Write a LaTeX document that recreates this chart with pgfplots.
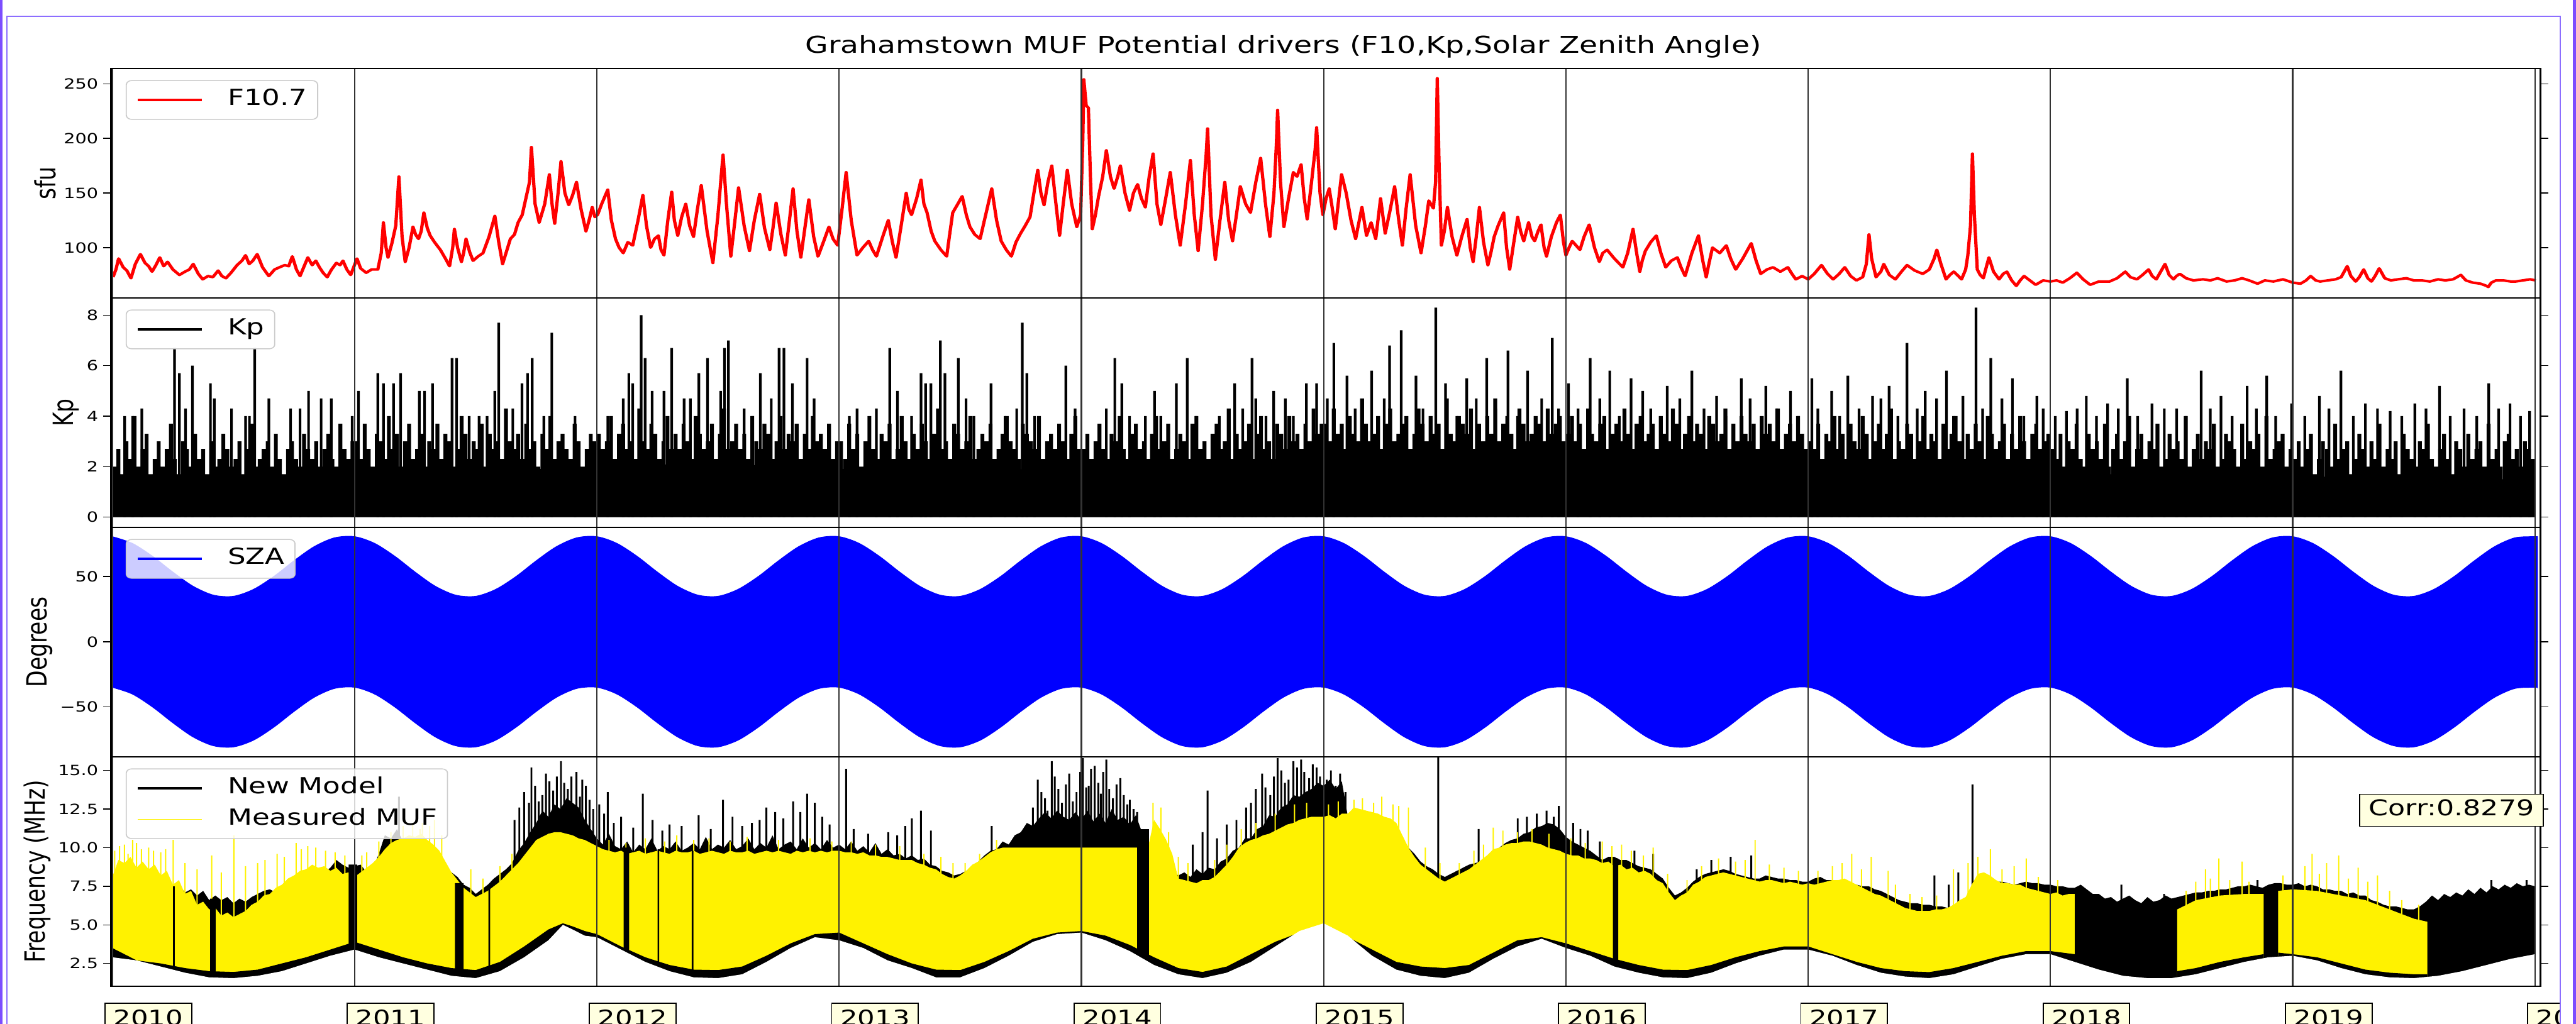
\documentclass[border=0pt]{standalone}
\usepackage{fontspec}
\setmainfont{DejaVu Sans}
\usepackage{graphicx}
\usepackage{pgfplots}
\pgfplotsset{compat=1.18}
\usepackage{pgfplotstable}
\definecolor{lyel}{RGB}{255,255,224}
\definecolor{frm}{RGB}{124,77,255}
\definecolor{frmthin}{RGB}{140,110,255}
\newsavebox{\figbox}

% ---------------- F10.7 (sfu) ----------------
\pgfplotstableread[row sep=\\]{t v\\
2010.003 73\\ 2010.015 80\\ 2010.026 90\\ 2010.045 82\\ 2010.060 79\\ 2010.077 72\\ 2010.095 85\\ 2010.116 94\\ 2010.135 86\\ 2010.150 83\\
2010.164 78\\ 2010.180 84\\ 2010.196 91\\ 2010.212 83\\ 2010.228 87\\ 2010.250 80\\ 2010.277 75\\ 2010.300 78\\ 2010.318 80\\ 2010.334 85\\
2010.355 76\\ 2010.373 71\\ 2010.395 74\\ 2010.415 73\\ 2010.437 79\\ 2010.452 74\\ 2010.469 72\\ 2010.490 77\\ 2010.515 84\\ 2010.535 88\\
2010.550 93\\ 2010.565 85\\ 2010.580 88\\ 2010.598 94\\ 2010.620 82\\ 2010.646 74\\ 2010.670 80\\ 2010.690 82\\ 2010.712 84\\ 2010.728 83\\
2010.743 92\\ 2010.760 80\\ 2010.775 74\\ 2010.790 82\\ 2010.807 91\\ 2010.825 84\\ 2010.840 88\\ 2010.855 82\\ 2010.870 77\\ 2010.887 73\\
2010.905 80\\ 2010.925 86\\ 2010.940 84\\ 2010.952 88\\ 2010.968 80\\ 2010.984 75\\ 2011.010 90\\
2011.025 81\\ 2011.048 77\\ 2011.070 80\\ 2011.096 80\\ 2011.110 95\\ 2011.119 123\\ 2011.130 100\\ 2011.138 91\\ 2011.154 104\\ 2011.170 120\\
2011.183 165\\ 2011.196 110\\ 2011.209 87\\ 2011.225 100\\ 2011.241 119\\ 2011.252 112\\ 2011.264 108\\ 2011.275 115\\ 2011.286 132\\ 2011.300 118\\
2011.312 111\\ 2011.330 105\\ 2011.354 98\\ 2011.375 90\\ 2011.392 83\\ 2011.405 100\\ 2011.412 117\\ 2011.425 100\\ 2011.441 87\\ 2011.450 95\\
2011.460 108\\ 2011.475 96\\ 2011.489 88\\ 2011.510 92\\ 2011.530 95\\ 2011.555 110\\ 2011.579 129\\ 2011.595 105\\ 2011.611 85\\ 2011.625 95\\
2011.643 108\\ 2011.660 112\\ 2011.675 123\\ 2011.692 130\\ 2011.707 145\\ 2011.722 160\\ 2011.730 192\\ 2011.745 140\\ 2011.762 123\\ 2011.785 140\\
2011.804 167\\ 2011.815 140\\ 2011.826 122\\ 2011.840 150\\ 2011.852 179\\ 2011.868 150\\ 2011.884 139\\ 2011.900 148\\ 2011.916 160\\ 2011.935 135\\
2011.955 115\\ 2011.968 125\\ 2011.981 137\\ 2011.992 128\\ 2012.003 130\\
2012.020 140\\ 2012.045 153\\ 2012.060 125\\ 2012.077 108\\ 2012.092 100\\ 2012.109 95\\ 2012.128 105\\ 2012.148 102\\ 2012.170 125\\ 2012.190 148\\
2012.205 120\\ 2012.222 100\\ 2012.238 108\\ 2012.254 111\\ 2012.265 98\\ 2012.277 93\\ 2012.293 125\\ 2012.309 151\\ 2012.320 125\\ 2012.334 111\\
2012.350 128\\ 2012.367 140\\ 2012.383 120\\ 2012.399 110\\ 2012.415 135\\ 2012.431 157\\ 2012.455 115\\ 2012.479 86\\ 2012.500 130\\ 2012.515 170\\
2012.521 185\\ 2012.535 140\\ 2012.553 92\\ 2012.570 125\\ 2012.585 155\\ 2012.608 120\\ 2012.630 97\\ 2012.650 125\\ 2012.672 149\\ 2012.692 118\\
2012.714 98\\ 2012.727 118\\ 2012.740 141\\ 2012.760 112\\ 2012.778 93\\ 2012.795 125\\ 2012.810 154\\ 2012.826 115\\ 2012.842 91\\ 2012.860 120\\
2012.875 144\\ 2012.895 110\\ 2012.913 92\\ 2012.935 105\\ 2012.958 119\\ 2012.975 108\\ 2012.994 102\\
2013.012 135\\ 2013.029 169\\ 2013.050 125\\ 2013.074 93\\ 2013.098 100\\ 2013.122 106\\ 2013.138 98\\ 2013.154 92\\ 2013.180 110\\ 2013.203 125\\
2013.220 105\\ 2013.235 91\\ 2013.256 120\\ 2013.277 150\\ 2013.288 135\\ 2013.299 130\\ 2013.320 145\\ 2013.338 162\\ 2013.350 140\\ 2013.363 132\\
2013.380 115\\ 2013.395 106\\ 2013.420 98\\ 2013.444 92\\ 2013.455 110\\ 2013.469 132\\ 2013.490 140\\ 2013.508 147\\ 2013.525 130\\ 2013.540 119\\
2013.560 112\\ 2013.582 108\\ 2013.605 130\\ 2013.630 154\\ 2013.650 125\\ 2013.669 106\\ 2013.690 98\\ 2013.711 92\\ 2013.730 105\\ 2013.749 113\\
2013.768 120\\ 2013.788 128\\ 2013.804 150\\ 2013.820 171\\ 2013.833 150\\ 2013.846 139\\ 2013.862 160\\ 2013.878 175\\ 2013.895 140\\ 2013.910 111\\
2013.925 140\\ 2013.942 171\\ 2013.960 140\\ 2013.981 119\\ 2013.997 130\\ 2014.006 200\\ 2014.010 254\\ 2014.020 230\\ 2014.029 228\\ 2014.038 160\\
2014.045 117\\ 2014.058 130\\ 2014.071 147\\ 2014.088 165\\ 2014.103 189\\ 2014.120 165\\ 2014.135 154\\ 2014.150 165\\ 2014.161 175\\ 2014.180 150\\
2014.199 134\\ 2014.215 150\\ 2014.232 158\\ 2014.248 145\\ 2014.264 137\\ 2014.280 165\\ 2014.296 186\\ 2014.312 140\\ 2014.328 121\\ 2014.348 145\\
2014.367 169\\ 2014.388 130\\ 2014.408 102\\ 2014.430 140\\ 2014.450 180\\ 2014.466 130\\ 2014.482 97\\ 2014.500 140\\ 2014.515 185\\ 2014.521 209\\
2014.535 130\\ 2014.553 89\\ 2014.572 125\\ 2014.592 160\\ 2014.608 125\\ 2014.624 106\\ 2014.640 130\\ 2014.656 156\\ 2014.678 140\\ 2014.698 132\\
2014.720 160\\ 2014.740 182\\ 2014.760 140\\ 2014.778 110\\ 2014.795 150\\ 2014.805 195\\ 2014.810 226\\ 2014.822 160\\ 2014.836 119\\ 2014.855 145\\
2014.875 169\\ 2014.890 165\\ 2014.907 176\\ 2014.920 145\\ 2014.932 126\\ 2014.950 160\\ 2014.965 190\\ 2014.971 210\\ 2014.985 150\\ 2014.997 130\\
2015.010 145\\ 2015.023 154\\ 2015.035 137\\ 2015.048 117\\ 2015.060 140\\ 2015.074 167\\ 2015.093 150\\ 2015.113 125\\ 2015.132 108\\ 2015.158 137\\
2015.177 111\\ 2015.196 123\\ 2015.215 108\\ 2015.235 145\\ 2015.254 113\\ 2015.275 135\\ 2015.293 156\\ 2015.310 125\\ 2015.325 102\\ 2015.340 135\\
2015.357 167\\ 2015.380 120\\ 2015.402 95\\ 2015.420 120\\ 2015.434 143\\ 2015.453 136\\ 2015.462 160\\ 2015.469 255\\ 2015.476 180\\ 2015.486 102\\
2015.498 115\\ 2015.511 137\\ 2015.530 110\\ 2015.550 93\\ 2015.570 110\\ 2015.592 126\\ 2015.605 100\\ 2015.617 87\\ 2015.630 110\\ 2015.643 137\\
2015.660 105\\ 2015.678 84\\ 2015.690 95\\ 2015.704 110\\ 2015.720 120\\ 2015.743 132\\ 2015.755 100\\ 2015.768 80\\ 2015.785 105\\ 2015.801 128\\
2015.813 115\\ 2015.826 106\\ 2015.846 123\\ 2015.860 110\\ 2015.871 106\\ 2015.885 115\\ 2015.897 121\\ 2015.910 100\\ 2015.920 92\\ 2015.940 110\\
2015.961 123\\ 2015.977 130\\ 2015.990 105\\
2016.000 93\\ 2016.013 100\\ 2016.026 106\\ 2016.042 102\\ 2016.058 98\\ 2016.075 110\\ 2016.096 121\\ 2016.118 100\\ 2016.138 87\\ 2016.152 95\\
2016.170 98\\ 2016.200 90\\ 2016.235 82\\ 2016.255 95\\ 2016.277 117\\ 2016.292 95\\ 2016.305 78\\ 2016.315 88\\ 2016.328 97\\ 2016.350 105\\
2016.373 111\\ 2016.392 95\\ 2016.412 82\\ 2016.435 88\\ 2016.460 91\\ 2016.475 82\\ 2016.492 74\\ 2016.520 95\\ 2016.547 111\\ 2016.565 88\\
2016.579 73\\ 2016.590 85\\ 2016.605 100\\ 2016.635 95\\ 2016.662 102\\ 2016.680 90\\ 2016.701 80\\ 2016.730 90\\ 2016.765 104\\ 2016.785 88\\
2016.804 76\\ 2016.830 80\\ 2016.855 82\\ 2016.885 78\\ 2016.916 82\\ 2016.933 76\\ 2016.949 71\\ 2016.975 74\\ 2017.000 71\\
2017.025 76\\ 2017.055 84\\ 2017.080 76\\ 2017.103 71\\ 2017.128 76\\ 2017.151 82\\ 2017.175 74\\ 2017.199 70\\ 2017.225 73\\ 2017.240 85\\
2017.251 112\\ 2017.262 90\\ 2017.280 73\\ 2017.300 78\\ 2017.312 85\\ 2017.335 75\\ 2017.360 71\\ 2017.385 78\\ 2017.408 84\\ 2017.440 79\\
2017.473 76\\ 2017.500 80\\ 2017.520 90\\ 2017.531 98\\ 2017.548 85\\ 2017.569 71\\ 2017.585 75\\ 2017.601 78\\ 2017.620 74\\ 2017.633 71\\
2017.650 80\\ 2017.659 93\\ 2017.670 120\\ 2017.678 186\\ 2017.686 130\\ 2017.698 80\\ 2017.710 75\\ 2017.723 72\\ 2017.735 82\\ 2017.746 91\\
2017.765 78\\ 2017.788 71\\ 2017.805 76\\ 2017.820 78\\ 2017.840 70\\ 2017.859 65\\ 2017.875 70\\ 2017.891 74\\ 2017.915 70\\ 2017.939 66\\
2017.970 70\\ 2018.000 69\\
2018.025 70\\ 2018.051 68\\ 2018.080 72\\ 2018.109 77\\ 2018.135 71\\ 2018.164 66\\ 2018.200 69\\ 2018.244 69\\ 2018.275 72\\ 2018.309 78\\
2018.330 73\\ 2018.357 71\\ 2018.380 75\\ 2018.405 80\\ 2018.420 74\\ 2018.437 71\\ 2018.455 78\\ 2018.473 85\\ 2018.490 75\\ 2018.508 71\\
2018.520 74\\ 2018.534 76\\ 2018.560 72\\ 2018.590 70\\ 2018.630 71\\ 2018.660 70\\ 2018.690 72\\ 2018.727 69\\ 2018.760 70\\ 2018.791 72\\
2018.820 70\\ 2018.855 67\\ 2018.885 70\\ 2018.920 69\\ 2018.960 71\\ 2019.000 68\\
2019.032 67\\ 2019.055 70\\ 2019.074 74\\ 2019.095 70\\ 2019.113 69\\ 2019.145 70\\ 2019.177 71\\ 2019.200 73\\ 2019.225 83\\ 2019.240 74\\
2019.260 69\\ 2019.275 73\\ 2019.293 80\\ 2019.310 72\\ 2019.325 69\\ 2019.340 74\\ 2019.357 81\\ 2019.380 72\\ 2019.405 70\\ 2019.435 71\\
2019.469 72\\ 2019.500 70\\ 2019.533 70\\ 2019.566 69\\ 2019.600 71\\ 2019.630 70\\ 2019.662 71\\ 2019.694 75\\ 2019.715 70\\ 2019.743 68\\
2019.775 67\\ 2019.800 65\\ 2019.807 64\\ 2019.820 68\\ 2019.839 70\\ 2019.870 70\\ 2019.900 69\\ 2019.920 69\\ 2019.950 70\\ 2019.980 71\\
2020.003 70\\
}\ftab

% ---------------- Kp ----------------
\pgfplotstableread[row sep=\\]{t b\\
2010.00 1.5\\ 2010.25 1.6\\ 2010.50 1.5\\ 2010.75 1.6\\ 2011.00 1.7\\ 2011.25 1.9\\ 2011.50 1.8\\ 2011.75 1.9\\ 2012.00 2.0\\ 2012.25 2.1\\
2012.50 2.0\\ 2012.75 2.1\\ 2013.00 1.9\\ 2013.25 2.0\\ 2013.50 2.0\\ 2013.75 1.9\\ 2014.00 1.8\\ 2014.25 1.9\\ 2014.50 1.9\\ 2014.75 2.0\\
2015.00 2.3\\ 2015.25 2.4\\ 2015.50 2.3\\ 2015.75 2.3\\ 2016.00 2.2\\ 2016.25 2.2\\ 2016.50 2.1\\ 2016.75 2.1\\ 2017.00 2.0\\ 2017.25 2.0\\
2017.50 1.9\\ 2017.75 2.0\\ 2018.00 1.8\\ 2018.25 1.7\\ 2018.50 1.7\\ 2018.75 1.7\\ 2019.00 1.6\\ 2019.25 1.6\\ 2019.50 1.5\\ 2019.75 1.5\\
2020.00 1.5\\
}\kpbase

\pgfplotstableread[row sep=\\, header=false]{%
2.0\\2.7\\1.7\\3.0\\2.3\\4.0\\2.0\\2.7\\3.3\\1.7\\2.3\\3.0\\2.0\\2.7\\3.7\\2.3\\1.7\\3.0\\2.7\\2.0\\3.3\\2.3\\2.7\\1.7\\3.0\\2.0\\2.3\\3.3\\2.7\\2.0\\
2.3\\3.0\\1.7\\2.7\\3.7\\2.0\\2.3\\2.7\\3.0\\2.0\\3.3\\2.3\\1.7\\2.7\\3.0\\2.3\\2.0\\3.3\\2.7\\2.3\\3.0\\2.0\\2.7\\3.3\\2.3\\2.0\\3.7\\2.7\\2.3\\3.0\\
3.0\\2.3\\3.7\\2.7\\2.0\\3.3\\3.0\\2.3\\4.0\\2.7\\3.3\\2.0\\3.0\\3.7\\2.3\\2.7\\3.3\\2.0\\3.0\\2.7\\3.7\\2.3\\3.3\\3.0\\2.0\\2.7\\4.0\\3.3\\2.3\\3.0\\
2.7\\3.7\\2.0\\3.3\\2.7\\3.0\\2.3\\4.3\\3.0\\2.7\\3.3\\2.3\\3.7\\2.7\\3.0\\2.0\\3.3\\2.7\\4.0\\2.3\\3.0\\3.3\\2.7\\2.3\\3.7\\3.0\\2.0\\2.7\\3.3\\3.0\\
3.3\\2.7\\3.0\\4.0\\2.3\\3.3\\3.7\\2.7\\3.0\\2.3\\4.3\\3.0\\2.7\\3.7\\3.3\\2.3\\3.0\\4.0\\2.7\\3.3\\2.7\\3.7\\3.0\\2.3\\4.0\\3.3\\2.7\\3.0\\3.7\\2.3\\
3.3\\4.3\\2.7\\3.0\\3.7\\2.7\\3.3\\2.3\\4.0\\3.0\\2.7\\3.7\\3.3\\2.3\\3.0\\4.0\\2.7\\3.3\\3.0\\3.7\\2.3\\3.3\\2.7\\4.0\\3.0\\3.3\\2.7\\3.7\\2.3\\3.0\\
3.0\\2.3\\3.7\\2.7\\3.3\\2.0\\3.0\\4.0\\2.7\\2.3\\3.3\\3.0\\3.7\\2.3\\2.7\\4.0\\3.0\\2.3\\3.3\\2.7\\3.7\\3.0\\2.3\\3.3\\4.3\\2.7\\3.0\\2.3\\3.7\\3.3\\
2.7\\3.0\\4.0\\2.3\\2.7\\3.3\\3.0\\3.7\\2.3\\2.7\\3.3\\4.0\\3.0\\2.7\\2.3\\3.7\\3.3\\3.0\\2.7\\4.0\\2.3\\3.0\\3.3\\2.7\\3.7\\3.0\\2.3\\3.3\\4.0\\2.7\\
2.7\\3.3\\2.3\\3.0\\3.7\\2.7\\2.3\\3.3\\3.0\\4.0\\2.7\\2.3\\3.3\\3.7\\2.7\\3.0\\2.3\\3.3\\4.0\\2.7\\3.0\\3.7\\2.3\\2.7\\3.3\\3.0\\2.3\\3.7\\4.0\\2.7\\
3.0\\2.3\\3.3\\3.7\\2.7\\3.0\\4.3\\2.3\\3.3\\2.7\\3.0\\3.7\\2.3\\3.3\\4.0\\2.7\\3.0\\2.3\\3.7\\3.3\\2.7\\4.0\\3.0\\3.3\\2.7\\3.7\\3.0\\4.3\\3.3\\3.7\\
3.7\\3.0\\4.3\\3.3\\3.7\\2.7\\4.0\\3.3\\3.0\\4.7\\3.7\\3.0\\3.3\\4.0\\2.7\\3.7\\4.3\\3.0\\3.3\\3.7\\4.0\\2.7\\3.3\\4.3\\3.7\\3.0\\4.0\\3.3\\3.7\\2.7\\
4.7\\3.3\\3.0\\4.0\\3.7\\3.3\\4.3\\2.7\\3.7\\3.0\\4.0\\3.3\\4.7\\3.0\\3.7\\4.0\\3.3\\2.7\\4.3\\3.7\\3.0\\3.3\\4.0\\3.7\\3.0\\4.3\\3.3\\3.7\\4.0\\3.0\\
3.3\\4.0\\3.0\\3.7\\2.7\\4.3\\3.3\\3.0\\3.7\\4.0\\2.7\\3.3\\3.7\\3.0\\4.3\\3.3\\2.7\\3.7\\4.0\\3.0\\3.3\\3.7\\2.7\\4.0\\3.3\\3.0\\4.3\\3.7\\2.7\\3.3\\
4.0\\3.0\\3.7\\3.3\\2.7\\4.0\\3.7\\3.0\\3.3\\4.3\\2.7\\3.7\\3.0\\4.0\\3.3\\3.0\\3.7\\2.7\\4.0\\3.3\\3.7\\3.0\\4.3\\2.7\\3.3\\3.7\\3.0\\4.0\\3.3\\2.7\\
3.0\\2.7\\3.7\\2.3\\3.3\\3.0\\4.0\\2.7\\3.3\\2.3\\3.7\\3.0\\2.7\\4.0\\3.3\\2.3\\3.0\\3.7\\2.7\\3.3\\4.3\\2.3\\3.0\\2.7\\3.7\\3.3\\2.3\\3.0\\4.0\\2.7\\
3.3\\3.0\\2.3\\3.7\\2.7\\3.3\\4.0\\3.0\\2.3\\3.3\\2.7\\3.7\\3.0\\2.3\\4.0\\3.3\\2.7\\3.0\\3.7\\2.3\\3.3\\2.7\\4.0\\3.0\\2.3\\3.3\\3.7\\2.7\\3.0\\3.3\\
2.7\\2.3\\3.3\\2.0\\3.0\\2.7\\3.7\\2.3\\2.0\\3.3\\2.7\\3.0\\2.3\\3.7\\2.0\\2.7\\3.3\\2.3\\3.0\\4.0\\2.0\\2.7\\3.3\\2.3\\3.0\\2.7\\3.7\\2.0\\2.3\\3.3\\
2.7\\3.0\\2.3\\4.0\\2.0\\2.7\\3.3\\2.3\\3.0\\2.7\\3.7\\2.0\\2.3\\3.3\\3.0\\2.7\\2.0\\3.7\\2.3\\3.0\\2.7\\3.3\\2.0\\4.0\\2.3\\2.7\\3.0\\3.3\\2.0\\2.7\\
2.3\\3.0\\2.0\\2.7\\3.3\\1.7\\2.3\\3.0\\2.7\\2.0\\3.7\\2.3\\2.7\\3.0\\1.7\\2.3\\3.3\\2.7\\2.0\\3.0\\2.3\\3.7\\2.0\\2.7\\2.3\\3.0\\1.7\\3.3\\2.7\\2.3\\
2.0\\3.0\\2.7\\3.7\\2.3\\2.0\\2.7\\3.3\\2.3\\1.7\\3.0\\2.7\\2.0\\3.3\\2.3\\2.7\\3.0\\2.0\\3.7\\2.3\\2.7\\2.0\\3.0\\3.3\\2.3\\2.7\\2.0\\3.0\\2.7\\2.3\\
}\kpgrass

\pgfplotstableread[row sep=\\]{t v\\
2010.051 4.0\\ 2010.084 4.0\\ 2010.122 4.3\\ 2010.257 6.7\\ 2010.277 5.7\\ 2010.302 4.3\\ 2010.331 6.0\\ 2010.405 5.3\\ 2010.421 4.7\\ 2010.492 4.3\\
2010.550 4.0\\ 2010.566 4.0\\ 2010.588 6.7\\ 2010.646 4.7\\ 2010.736 4.3\\ 2010.775 4.3\\ 2010.810 5.0\\ 2010.862 4.7\\ 2010.904 4.7\\ 2010.990 4.0\\
2011.016 5.0\\ 2011.096 5.7\\ 2011.119 5.3\\ 2011.161 5.3\\ 2011.190 5.7\\ 2011.267 5.0\\ 2011.289 5.0\\ 2011.322 5.3\\ 2011.402 6.3\\ 2011.421 6.3\\
2011.473 4.0\\ 2011.514 4.0\\ 2011.547 4.0\\ 2011.579 5.0\\ 2011.595 7.7\\ 2011.653 4.3\\ 2011.691 5.3\\ 2011.714 5.7\\ 2011.733 6.3\\ 2011.781 4.0\\
2011.814 7.3\\ 2011.910 4.0\\
2012.045 4.0\\ 2012.109 4.7\\ 2012.132 5.7\\ 2012.148 5.3\\ 2012.183 8.0\\ 2012.199 6.3\\ 2012.228 5.0\\ 2012.277 5.0\\ 2012.309 6.7\\ 2012.360 4.7\\
2012.386 4.7\\ 2012.421 5.7\\ 2012.457 6.3\\ 2012.511 5.0\\ 2012.527 6.7\\ 2012.543 7.0\\ 2012.608 4.3\\ 2012.643 4.0\\ 2012.675 5.7\\ 2012.720 4.7\\
2012.752 6.7\\ 2012.772 6.7\\ 2012.807 5.3\\ 2012.868 6.3\\ 2012.897 4.7\\
2013.042 4.0\\ 2013.074 4.3\\ 2013.154 4.3\\ 2013.209 6.7\\ 2013.241 5.0\\ 2013.299 4.0\\ 2013.338 5.7\\ 2013.357 5.3\\ 2013.379 5.3\\ 2013.418 7.0\\
2013.437 5.7\\ 2013.492 6.3\\ 2013.524 4.7\\ 2013.556 4.0\\ 2013.627 5.3\\ 2013.685 4.0\\ 2013.733 4.3\\ 2013.756 7.7\\ 2013.775 5.7\\ 2013.807 4.0\\
2013.936 6.0\\ 2013.974 4.3\\
2014.103 4.3\\ 2014.138 6.3\\ 2014.167 5.3\\ 2014.199 4.0\\ 2014.264 4.0\\ 2014.302 5.0\\ 2014.328 4.0\\ 2014.392 5.3\\ 2014.437 6.3\\ 2014.473 4.0\\
2014.569 4.0\\ 2014.633 5.3\\ 2014.666 4.3\\ 2014.704 6.3\\ 2014.720 4.7\\ 2014.762 4.0\\ 2014.794 5.0\\ 2014.842 4.7\\ 2014.875 4.0\\ 2014.929 5.3\\
2014.971 5.3\\
2015.015 4.7\\ 2015.042 6.9\\ 2015.096 5.6\\ 2015.130 4.3\\ 2015.198 5.8\\ 2015.250 4.7\\ 2015.272 6.8\\ 2015.320 7.4\\ 2015.381 5.6\\ 2015.410 4.3\\
2015.463 8.3\\ 2015.503 5.3\\ 2015.550 4.0\\ 2015.591 5.5\\ 2015.630 4.7\\ 2015.673 6.3\\ 2015.710 4.3\\ 2015.761 6.6\\ 2015.800 4.0\\ 2015.842 5.8\\
2015.900 4.7\\ 2015.944 7.1\\ 2015.970 4.3\\
2016.011 5.3\\ 2016.050 4.3\\ 2016.100 6.3\\ 2016.140 4.7\\ 2016.181 5.8\\ 2016.220 4.0\\ 2016.269 5.5\\ 2016.317 5.0\\ 2016.350 4.3\\ 2016.418 5.2\\
2016.470 4.7\\ 2016.520 5.8\\ 2016.570 4.3\\ 2016.622 4.8\\ 2016.660 4.0\\ 2016.724 5.5\\ 2016.760 4.7\\ 2016.825 5.2\\ 2016.870 4.3\\ 2016.927 5.0\\
2016.960 4.0\\
2017.015 5.5\\ 2017.040 4.3\\ 2017.097 5.0\\ 2017.130 4.0\\ 2017.164 5.6\\ 2017.210 4.3\\ 2017.266 4.8\\ 2017.300 4.7\\ 2017.334 5.2\\ 2017.370 4.0\\
2017.408 6.9\\ 2017.450 4.3\\ 2017.483 5.0\\ 2017.530 4.7\\ 2017.571 5.8\\ 2017.600 4.0\\ 2017.639 4.8\\ 2017.693 8.3\\ 2017.720 4.3\\ 2017.754 6.3\\
2017.800 4.7\\ 2017.843 5.5\\ 2017.890 4.0\\ 2017.944 4.8\\ 2017.970 4.3\\
2018.020 4.0\\ 2018.066 4.2\\ 2018.110 4.3\\ 2018.148 4.8\\ 2018.190 4.0\\ 2018.236 4.5\\ 2018.280 4.3\\ 2018.317 5.5\\ 2018.360 4.0\\ 2018.419 4.5\\
2018.470 4.3\\ 2018.521 4.3\\ 2018.560 4.0\\ 2018.622 5.8\\ 2018.660 4.3\\ 2018.704 4.8\\ 2018.750 4.0\\ 2018.812 5.2\\ 2018.850 4.3\\ 2018.893 5.6\\
2018.930 4.0\\ 2018.995 4.5\\
2019.050 4.0\\ 2019.110 4.8\\ 2019.150 4.3\\ 2019.199 5.8\\ 2019.250 4.0\\ 2019.300 4.5\\ 2019.350 4.3\\ 2019.402 4.2\\ 2019.450 4.0\\ 2019.504 4.5\\
2019.550 4.3\\ 2019.606 5.2\\ 2019.650 4.0\\ 2019.707 4.3\\ 2019.760 4.0\\ 2019.809 5.3\\ 2019.850 4.3\\ 2019.897 4.5\\ 2019.940 4.0\\ 2019.978 4.2\\
}\kpspk

% ---------------- SZA envelope ----------------
\pgfplotstableread[row sep=\\]{t u l\\
2010.000 80.6 -34.9\\ 2010.083 75.4 -40.1\\ 2010.167 65.4 -50.1\\ 2010.250 53.4 -62.1\\ 2010.333 42.6 -72.9\\ 2010.417 35.8 -79.7\\ 2010.500 34.9 -80.6\\ 2010.583 40.2 -75.4\\ 2010.667 50.1 -65.4\\ 2010.750 62.1 -53.4\\ 2010.833 72.9 -42.6\\ 2010.917 79.7 -35.8\\
2011.000 80.6 -34.9\\ 2011.083 75.4 -40.1\\ 2011.167 65.4 -50.1\\ 2011.250 53.4 -62.1\\ 2011.333 42.6 -72.9\\ 2011.417 35.8 -79.7\\ 2011.500 34.9 -80.6\\ 2011.583 40.2 -75.4\\ 2011.667 50.1 -65.4\\ 2011.750 62.1 -53.4\\ 2011.833 72.9 -42.6\\ 2011.917 79.7 -35.8\\
2012.000 80.6 -34.9\\ 2012.083 75.4 -40.1\\ 2012.167 65.4 -50.1\\ 2012.250 53.4 -62.1\\ 2012.333 42.6 -72.9\\ 2012.417 35.8 -79.7\\ 2012.500 34.9 -80.6\\ 2012.583 40.2 -75.4\\ 2012.667 50.1 -65.4\\ 2012.750 62.1 -53.4\\ 2012.833 72.9 -42.6\\ 2012.917 79.7 -35.8\\
2013.000 80.6 -34.9\\ 2013.083 75.4 -40.1\\ 2013.167 65.4 -50.1\\ 2013.250 53.4 -62.1\\ 2013.333 42.6 -72.9\\ 2013.417 35.8 -79.7\\ 2013.500 34.9 -80.6\\ 2013.583 40.2 -75.4\\ 2013.667 50.1 -65.4\\ 2013.750 62.1 -53.4\\ 2013.833 72.9 -42.6\\ 2013.917 79.7 -35.8\\
2014.000 80.6 -34.9\\ 2014.083 75.4 -40.1\\ 2014.167 65.4 -50.1\\ 2014.250 53.4 -62.1\\ 2014.333 42.6 -72.9\\ 2014.417 35.8 -79.7\\ 2014.500 34.9 -80.6\\ 2014.583 40.2 -75.4\\ 2014.667 50.1 -65.4\\ 2014.750 62.1 -53.4\\ 2014.833 72.9 -42.6\\ 2014.917 79.7 -35.8\\
2015.000 80.6 -34.9\\ 2015.083 75.4 -40.1\\ 2015.167 65.4 -50.1\\ 2015.250 53.4 -62.1\\ 2015.333 42.6 -72.9\\ 2015.417 35.8 -79.7\\ 2015.500 34.9 -80.6\\ 2015.583 40.2 -75.4\\ 2015.667 50.1 -65.4\\ 2015.750 62.1 -53.4\\ 2015.833 72.9 -42.6\\ 2015.917 79.7 -35.8\\
2016.000 80.6 -34.9\\ 2016.083 75.4 -40.1\\ 2016.167 65.4 -50.1\\ 2016.250 53.4 -62.1\\ 2016.333 42.6 -72.9\\ 2016.417 35.8 -79.7\\ 2016.500 34.9 -80.6\\ 2016.583 40.2 -75.4\\ 2016.667 50.1 -65.4\\ 2016.750 62.1 -53.4\\ 2016.833 72.9 -42.6\\ 2016.917 79.7 -35.8\\
2017.000 80.6 -34.9\\ 2017.083 75.4 -40.1\\ 2017.167 65.4 -50.1\\ 2017.250 53.4 -62.1\\ 2017.333 42.6 -72.9\\ 2017.417 35.8 -79.7\\ 2017.500 34.9 -80.6\\ 2017.583 40.2 -75.4\\ 2017.667 50.1 -65.4\\ 2017.750 62.1 -53.4\\ 2017.833 72.9 -42.6\\ 2017.917 79.7 -35.8\\
2018.000 80.6 -34.9\\ 2018.083 75.4 -40.1\\ 2018.167 65.4 -50.1\\ 2018.250 53.4 -62.1\\ 2018.333 42.6 -72.9\\ 2018.417 35.8 -79.7\\ 2018.500 34.9 -80.6\\ 2018.583 40.2 -75.4\\ 2018.667 50.1 -65.4\\ 2018.750 62.1 -53.4\\ 2018.833 72.9 -42.6\\ 2018.917 79.7 -35.8\\
2019.000 80.6 -34.9\\ 2019.083 75.4 -40.1\\ 2019.167 65.4 -50.1\\ 2019.250 53.4 -62.1\\ 2019.333 42.6 -72.9\\ 2019.417 35.8 -79.7\\ 2019.500 34.9 -80.6\\ 2019.583 40.2 -75.4\\ 2019.667 50.1 -65.4\\ 2019.750 62.1 -53.4\\ 2019.833 72.9 -42.6\\ 2019.917 79.7 -35.8\\
2020.000 80.6 -34.9\\ 2020.010 80.6 -34.9\\
}\szatab

% ---------------- MUF envelopes ----------------
\pgfplotstableread[row sep=\\, header=false]{%
7.6\\8.8\\8.3\\8.7\\8.0\\8.4\\7.9\\8.5\\7.6\\7.9\\7.4\\7.6\\7.1\\7.3\\6.9\\7.2\\6.6\\6.9\\6.6\\6.8\\6.4\\6.7\\6.5\\6.8\\7.0\\7.2\\7.3\\7.1\\7.5\\7.7\\7.9\\8.2\\8.2\\8.6\\8.5\\8.4\\8.7\\9.2\\8.9\\8.7\\
8.8\\8.9\\8.4\\8.6\\9.6\\10.8\\10.6\\11.2\\10.4\\10.5\\10.0\\9.9\\9.7\\9.4\\9.0\\8.8\\8.4\\8.1\\7.6\\7.4\\7.0\\7.3\\7.6\\8.0\\8.3\\8.6\\9.0\\9.8\\10.3\\11.0\\11.6\\12.4\\12.0\\12.8\\12.5\\13.2\\12.9\\12.6\\11.8\\11.2\\
10.6\\10.2\\10.9\\10.1\\9.9\\10.4\\9.7\\10.2\\9.9\\10.6\\9.8\\10.1\\9.9\\10.4\\9.8\\10.0\\10.3\\9.9\\10.7\\9.9\\10.2\\10.0\\10.5\\9.9\\10.1\\10.6\\9.9\\10.3\\10.0\\10.8\\9.9\\10.2\\10.4\\9.9\\10.6\\10.0\\10.3\\9.9\\10.5\\10.0\\
10.2\\9.9\\10.4\\9.8\\10.1\\9.7\\10.3\\9.6\\9.9\\9.5\\9.6\\9.3\\9.5\\9.2\\9.3\\8.9\\8.8\\8.5\\8.4\\8.2\\8.3\\8.5\\8.7\\9.1\\9.5\\9.8\\9.9\\10.4\\10.2\\10.8\\11.0\\11.6\\11.4\\11.9\\12.3\\11.9\\12.4\\12.0\\11.8\\12.3\\
11.8\\12.4\\11.7\\12.2\\11.6\\12.5\\11.8\\12.0\\11.5\\12.1\\11.0\\10.4\\9.6\\9.2\\8.8\\8.5\\8.2\\8.4\\8.1\\8.6\\8.3\\8.7\\8.6\\9.1\\9.3\\9.8\\10.0\\10.6\\10.6\\11.2\\11.4\\12.1\\12.0\\12.6\\12.8\\13.4\\13.3\\13.6\\13.8\\14.2\\
14.0\\14.4\\13.8\\14.3\\12.0\\11.6\\11.3\\11.9\\11.6\\11.2\\11.8\\11.5\\11.2\\10.6\\10.0\\9.6\\9.1\\8.8\\8.6\\8.3\\8.1\\8.3\\8.5\\8.7\\8.9\\9.0\\9.1\\9.4\\9.6\\10.0\\10.3\\10.5\\10.6\\10.9\\11.0\\11.3\\11.4\\11.6\\11.5\\11.2\\
10.7\\10.4\\10.2\\10.0\\9.8\\9.5\\9.2\\9.4\\9.4\\9.2\\9.2\\9.0\\8.8\\8.7\\8.6\\8.3\\8.0\\7.4\\6.9\\7.1\\7.4\\7.8\\8.1\\8.3\\8.4\\8.5\\8.6\\8.5\\8.3\\8.2\\8.1\\8.0\\8.0\\8.2\\8.1\\8.0\\8.0\\7.9\\7.9\\7.8\\
7.8\\8.0\\8.1\\7.9\\7.9\\7.8\\7.8\\7.7\\7.6\\7.5\\7.5\\7.3\\7.2\\7.0\\6.8\\6.6\\6.5\\6.4\\6.4\\6.3\\6.3\\6.2\\6.2\\6.1\\6.1\\6.3\\6.4\\7.2\\7.8\\7.9\\7.9\\7.8\\7.8\\7.7\\7.6\\7.7\\7.8\\7.7\\7.7\\7.6\\
7.6\\7.5\\7.5\\7.4\\7.4\\7.6\\7.3\\7.0\\7.0\\6.7\\6.8\\6.5\\6.7\\6.9\\6.6\\6.4\\6.8\\6.5\\6.6\\6.9\\6.7\\6.8\\6.9\\7.0\\7.1\\7.1\\7.2\\7.2\\7.3\\7.3\\7.4\\7.5\\7.5\\7.6\\7.5\\7.4\\7.6\\7.7\\7.7\\7.6\\
7.6\\7.7\\7.5\\7.6\\7.5\\7.3\\7.3\\7.2\\7.2\\7.0\\7.1\\6.9\\6.9\\6.6\\6.5\\6.3\\6.2\\6.2\\6.1\\6.0\\6.0\\6.2\\6.5\\6.9\\6.6\\7.0\\6.8\\7.1\\6.9\\7.3\\7.0\\7.4\\7.1\\7.5\\7.3\\7.6\\7.4\\7.7\\7.5\\7.6\\
7.5\\
}\ubtab

\pgfplotstableread[row sep=\\, header=false]{%
8.1\\9.2\\9.0\\9.4\\8.7\\9.1\\8.6\\8.9\\8.2\\8.5\\7.6\\7.9\\7.0\\7.2\\6.3\\6.5\\6.0\\6.1\\5.6\\5.8\\5.5\\5.7\\5.9\\6.3\\6.5\\6.9\\7.0\\7.4\\7.6\\8.0\\8.2\\8.5\\8.6\\8.9\\8.7\\8.8\\8.5\\8.7\\8.3\\8.4\\
8.1\\8.4\\8.7\\9.0\\9.4\\9.9\\10.3\\10.5\\10.6\\10.8\\10.7\\10.9\\10.5\\10.2\\9.8\\9.1\\8.4\\7.9\\7.4\\7.1\\6.8\\7.0\\7.2\\7.5\\7.8\\8.2\\8.6\\9.0\\9.5\\10.0\\10.5\\10.7\\10.9\\11.0\\11.0\\10.9\\10.8\\10.6\\10.5\\10.3\\
10.1\\9.9\\9.8\\9.7\\9.8\\9.6\\9.7\\9.8\\9.6\\9.7\\9.8\\9.7\\9.6\\9.8\\9.7\\9.7\\9.8\\9.6\\9.7\\9.8\\9.7\\9.6\\9.8\\9.7\\9.7\\9.8\\9.6\\9.7\\9.8\\9.7\\9.8\\9.7\\9.6\\9.8\\9.7\\9.8\\9.7\\9.8\\9.7\\9.8\\
9.8\\9.7\\9.7\\9.6\\9.7\\9.5\\9.5\\9.4\\9.4\\9.3\\9.2\\9.2\\9.2\\9.0\\8.9\\8.7\\8.6\\8.3\\8.1\\8.0\\8.2\\8.5\\8.9\\9.1\\9.4\\9.7\\9.9\\10.0\\10.0\\10.0\\10.0\\10.0\\10.0\\10.0\\10.0\\10.0\\10.0\\10.0\\10.0\\10.0\\
10.0\\10.0\\10.0\\10.0\\10.0\\10.0\\10.0\\10.0\\10.0\\10.0\\10.0\\10.0\\11.8\\11.2\\10.5\\9.6\\8.0\\7.9\\7.8\\7.7\\7.9\\7.9\\8.1\\8.5\\8.9\\9.4\\10.0\\10.3\\10.5\\10.6\\10.8\\10.9\\11.1\\11.3\\11.5\\11.6\\11.8\\11.9\\12.0\\12.0\\
12.0\\12.1\\11.9\\12.2\\12.2\\12.6\\12.5\\12.4\\12.3\\12.2\\12.0\\11.9\\11.6\\10.8\\10.0\\9.4\\8.9\\8.6\\8.3\\8.0\\7.8\\8.0\\8.2\\8.4\\8.6\\8.9\\9.2\\9.5\\9.9\\10.0\\10.2\\10.3\\10.3\\10.4\\10.4\\10.3\\10.2\\10.0\\9.9\\9.8\\
9.6\\9.5\\9.5\\9.3\\9.3\\9.2\\9.0\\9.1\\8.8\\8.9\\8.6\\8.7\\8.4\\8.5\\8.3\\7.9\\7.7\\7.1\\6.6\\6.9\\7.1\\7.6\\7.8\\8.1\\8.2\\8.3\\8.4\\8.3\\8.2\\8.1\\8.0\\7.9\\7.8\\7.9\\7.9\\7.8\\7.7\\7.8\\7.7\\7.6\\
7.7\\7.6\\7.7\\7.8\\7.9\\7.9\\8.0\\7.8\\7.6\\7.4\\7.2\\7.0\\6.9\\6.7\\6.5\\6.3\\6.1\\6.0\\5.9\\5.9\\5.9\\6.0\\6.0\\6.1\\6.3\\6.6\\6.8\\7.6\\8.3\\8.4\\8.2\\7.9\\7.7\\7.7\\7.6\\7.6\\7.4\\7.3\\7.2\\7.1\\
7.0\\7.1\\6.9\\7.0\\7.0\\
}\uyatab

\pgfplotstableread[row sep=\\]{t v\\
2010.00 2.9\\ 2010.10 2.7\\ 2010.20 2.3\\ 2010.30 1.9\\ 2010.40 1.6\\ 2010.50 1.55\\ 2010.60 1.7\\ 2010.70 2.0\\ 2010.80 2.5\\ 2010.90 3.0\\
2011.00 3.4\\ 2011.10 2.9\\ 2011.20 2.5\\ 2011.30 2.1\\ 2011.40 1.7\\ 2011.50 1.55\\ 2011.60 2.0\\ 2011.70 2.9\\ 2011.80 4.0\\ 2011.86 5.0\\
2011.90 4.7\\ 2011.95 4.3\\ 2012.00 4.2\\ 2012.10 3.4\\ 2012.20 2.6\\ 2012.30 2.0\\ 2012.40 1.6\\ 2012.50 1.55\\ 2012.60 1.8\\ 2012.70 2.6\\
2012.80 3.5\\ 2012.90 4.2\\ 2013.00 4.0\\ 2013.10 3.5\\ 2013.20 2.7\\ 2013.30 2.2\\ 2013.40 1.6\\ 2013.50 1.6\\ 2013.60 2.2\\ 2013.70 3.0\\
2013.80 3.9\\ 2013.90 4.4\\ 2014.00 4.5\\ 2014.10 4.0\\ 2014.20 3.3\\ 2014.30 2.4\\ 2014.40 1.8\\ 2014.50 1.55\\ 2014.60 1.9\\ 2014.70 2.6\\
2014.80 3.6\\ 2014.90 4.6\\ 2015.00 5.1\\ 2015.10 4.3\\ 2015.20 3.0\\ 2015.30 2.1\\ 2015.40 1.7\\ 2015.50 1.55\\ 2015.60 1.9\\ 2015.70 2.8\\
2015.80 3.6\\ 2015.90 4.1\\ 2016.00 3.5\\ 2016.10 3.0\\ 2016.20 2.3\\ 2016.30 1.9\\ 2016.40 1.6\\ 2016.50 1.55\\ 2016.60 1.9\\ 2016.70 2.5\\
2016.80 3.0\\ 2016.90 3.4\\ 2017.00 3.4\\ 2017.10 3.0\\ 2017.20 2.4\\ 2017.30 1.9\\ 2017.40 1.65\\ 2017.50 1.55\\ 2017.60 1.8\\ 2017.70 2.3\\
2017.80 2.8\\ 2017.90 3.1\\ 2018.00 3.1\\ 2018.10 2.6\\ 2018.20 2.1\\ 2018.30 1.7\\ 2018.40 1.55\\ 2018.50 1.55\\ 2018.60 1.8\\ 2018.70 2.2\\
2018.80 2.6\\ 2018.90 2.9\\ 2019.00 3.0\\ 2019.10 2.7\\ 2019.20 2.2\\ 2019.30 1.8\\ 2019.40 1.6\\ 2019.50 1.55\\ 2019.60 1.7\\ 2019.70 2.0\\
2019.80 2.4\\ 2019.90 2.8\\ 2020.00 3.1\\ 2020.03 3.1\\
}\lbtab

\pgfplotstableread[row sep=\\]{t v\\
2010.00 3.5\\ 2010.10 2.7\\ 2010.20 2.5\\ 2010.30 2.2\\ 2010.40 2.0\\ 2010.50 1.95\\ 2010.60 2.1\\ 2010.70 2.5\\ 2010.80 2.9\\ 2010.90 3.4\\
2011.00 3.9\\ 2011.10 3.4\\ 2011.20 2.9\\ 2011.30 2.5\\ 2011.40 2.2\\ 2011.50 2.07\\ 2011.60 2.6\\ 2011.70 3.6\\ 2011.80 4.7\\ 2011.86 5.1\\
2011.90 4.9\\ 2011.95 4.6\\ 2012.00 4.4\\ 2012.10 3.6\\ 2012.20 2.9\\ 2012.30 2.4\\ 2012.40 2.1\\ 2012.50 2.07\\ 2012.60 2.3\\ 2012.70 3.0\\
2012.80 3.8\\ 2012.90 4.4\\ 2013.00 4.5\\ 2013.10 3.8\\ 2013.20 3.1\\ 2013.30 2.5\\ 2013.40 2.1\\ 2013.50 2.07\\ 2013.60 2.6\\ 2013.70 3.3\\
2013.80 4.1\\ 2013.90 4.5\\ 2014.00 4.6\\ 2014.10 4.3\\ 2014.20 3.7\\ 2014.30 2.9\\ 2014.40 2.2\\ 2014.50 1.95\\ 2014.60 2.3\\ 2014.70 3.1\\
2014.80 3.9\\ 2014.90 4.5\\ 2015.00 4.7\\ 2015.10 4.2\\ 2015.20 3.4\\ 2015.30 2.6\\ 2015.40 2.3\\ 2015.50 2.2\\ 2015.60 2.4\\ 2015.70 3.2\\
2015.80 4.0\\ 2015.90 4.2\\ 2016.00 3.8\\ 2016.10 3.3\\ 2016.20 2.8\\ 2016.30 2.4\\ 2016.40 2.1\\ 2016.50 2.07\\ 2016.60 2.4\\ 2016.70 2.9\\
2016.80 3.3\\ 2016.90 3.6\\ 2017.00 3.6\\ 2017.10 3.1\\ 2017.20 2.6\\ 2017.30 2.2\\ 2017.40 2.0\\ 2017.50 1.94\\ 2017.60 2.2\\ 2017.70 2.6\\
2017.80 3.0\\ 2017.90 3.3\\ 2018.00 3.3\\ 2018.10 3.1\\
}\lyatab

\pgfplotstableread[row sep=\\]{t u l\\
2018.523 6.0 2.0\\ 2018.60 6.6 2.2\\ 2018.70 6.9 2.6\\ 2018.80 7.0 2.9\\ 2018.88 7.0 3.1\\
}\ybtab

\pgfplotstableread[row sep=\\]{t u l\\
2018.94 7.2 3.2\\ 2019.00 7.3 3.1\\ 2019.10 7.2 2.9\\ 2019.20 6.9 2.5\\ 2019.30 6.6 2.1\\ 2019.40 6.0 1.9\\ 2019.50 5.4 1.8\\ 2019.556 5.2 1.8\\
}\yctab

% spikes of the model above its envelope
\pgfplotstableread[row sep=\\]{t top\\
2011.183 13.3\\ 2011.660 11.8\\ 2011.680 12.6\\ 2011.700 13.6\\ 2011.720 12.9\\ 2011.730 15.2\\ 2011.745 14.0\\ 2011.760 13.0\\ 2011.775 13.4\\ 2011.790 14.8\\
2011.804 14.3\\ 2011.820 13.7\\ 2011.835 14.6\\ 2011.852 15.6\\ 2011.865 14.2\\ 2011.880 13.8\\ 2011.895 14.6\\ 2011.916 14.9\\ 2011.930 13.3\\ 2011.940 14.4\\
2011.955 14.0\\ 2011.970 13.1\\ 2011.985 12.5\\ 2012.010 12.8\\ 2012.030 12.2\\ 2012.045 13.6\\ 2012.070 11.6\\ 2012.100 12.0\\ 2012.150 11.3\\ 2012.190 13.5\\
2012.230 11.8\\ 2012.270 11.1\\ 2012.300 11.5\\ 2012.350 11.4\\ 2012.420 12.1\\ 2012.470 11.2\\ 2012.521 13.1\\ 2012.560 12.0\\ 2012.600 11.4\\ 2012.640 11.6\\
2012.672 11.8\\ 2012.700 12.6\\ 2012.736 12.3\\ 2012.770 11.9\\ 2012.810 13.0\\ 2012.840 12.3\\ 2012.868 13.5\\ 2012.900 12.9\\ 2012.930 12.0\\ 2012.961 11.5\\
2013.029 15.1\\ 2013.060 11.2\\ 2013.120 10.9\\ 2013.203 11.0\\ 2013.240 10.8\\ 2013.273 11.4\\ 2013.300 11.9\\ 2013.338 12.4\\ 2013.379 11.1\\ 2013.630 11.4\\
2013.800 12.6\\ 2013.820 14.4\\ 2013.835 13.6\\ 2013.850 13.2\\ 2013.860 12.4\\ 2013.878 15.6\\ 2013.890 14.6\\ 2013.905 13.8\\ 2013.920 12.9\\ 2013.936 14.1\\
2013.950 14.8\\ 2013.965 13.0\\ 2013.980 13.6\\ 2013.995 14.9\\ 2014.006 15.8\\ 2014.020 13.9\\ 2014.030 14.0\\ 2014.040 15.1\\ 2014.055 15.3\\ 2014.070 14.2\\
2014.080 13.5\\ 2014.090 14.9\\ 2014.103 15.7\\ 2014.115 13.8\\ 2014.130 13.2\\ 2014.145 14.1\\ 2014.161 14.5\\ 2014.175 13.4\\ 2014.190 12.8\\ 2014.200 13.1\\
2014.215 12.5\\ 2014.230 12.3\\ 2014.460 10.2\\ 2014.500 11.0\\ 2014.521 13.7\\ 2014.560 10.6\\ 2014.600 11.5\\ 2014.640 11.8\\ 2014.680 12.6\\ 2014.700 12.9\\
2014.720 13.8\\ 2014.746 14.8\\ 2014.760 13.9\\ 2014.780 13.4\\ 2014.795 14.6\\ 2014.810 15.8\\ 2014.825 15.0\\ 2014.840 14.2\\ 2014.855 14.4\\ 2014.875 15.6\\
2014.890 15.2\\ 2014.907 15.7\\ 2014.920 14.9\\ 2014.940 14.5\\ 2014.955 15.4\\ 2014.971 15.2\\ 2014.985 14.6\\ 2015.013 14.4\\ 2015.030 15.0\\ 2015.050 14.0\\
2015.068 14.8\\ 2015.090 13.6\\ 2015.473 15.85\\ 2015.640 11.2\\ 2015.801 11.9\\ 2015.839 12.0\\ 2015.880 12.2\\ 2015.920 12.4\\ 2015.950 12.0\\ 2015.971 12.7\\
2016.030 11.6\\ 2016.060 11.2\\ 2016.090 11.1\\ 2016.140 10.4\\ 2016.283 9.8\\ 2016.360 9.6\\ 2016.540 8.6\\ 2016.600 9.2\\ 2016.680 9.4\\ 2016.765 9.5\\
2017.521 8.2\\ 2017.580 7.6\\ 2017.620 8.4\\ 2017.678 14.1\\ 2018.293 7.6\\ 2018.469 7.0\\ 2018.855 7.9\\ 2019.820 7.9\\ 2019.965 7.9\\
}\bsptab

% spikes of the measured MUF above its envelope
\pgfplotstableread[row sep=\\]{t top\\
2010.010 9.8\\ 2010.030 10.1\\ 2010.050 10.2\\ 2010.065 9.6\\ 2010.084 10.5\\ 2010.100 10.3\\ 2010.120 9.9\\ 2010.150 10.0\\ 2010.170 9.8\\ 2010.200 9.7\\
2010.220 9.9\\ 2010.251 10.5\\ 2010.300 9.0\\ 2010.350 8.6\\ 2010.410 9.5\\ 2010.450 8.4\\ 2010.502 10.8\\ 2010.550 8.8\\ 2010.600 9.0\\ 2010.630 9.2\\
2010.680 9.6\\ 2010.710 9.4\\ 2010.759 10.3\\ 2010.780 9.9\\ 2010.807 10.1\\ 2010.840 10.0\\ 2010.880 9.8\\ 2010.920 9.7\\ 2010.960 9.5\\ 2011.030 9.5\\
2011.050 9.7\\ 2011.100 10.4\\ 2011.150 11.0\\ 2011.200 11.4\\ 2011.240 11.5\\ 2011.270 11.2\\ 2011.280 11.6\\ 2011.310 11.4\\ 2011.330 11.8\\ 2011.360 10.8\\
2011.480 8.6\\ 2011.530 8.0\\ 2011.600 8.8\\ 2011.650 9.6\\ 2012.050 10.5\\ 2012.120 10.3\\ 2012.200 10.6\\ 2012.280 10.4\\ 2012.330 10.8\\ 2012.400 10.5\\
2012.463 10.6\\ 2012.550 10.4\\ 2012.620 10.7\\ 2012.750 10.5\\ 2012.880 10.6\\ 2012.970 10.4\\ 2013.050 10.4\\ 2013.150 10.2\\ 2013.250 10.1\\ 2013.350 9.6\\
2013.420 9.4\\ 2013.470 9.0\\ 2013.520 9.0\\ 2013.580 9.6\\ 2013.650 10.5\\ 2014.296 12.9\\ 2014.328 12.6\\ 2014.360 11.0\\ 2014.400 9.4\\ 2014.440 9.0\\
2014.550 9.2\\ 2014.600 10.2\\ 2014.660 11.2\\ 2014.720 11.6\\ 2014.800 12.2\\ 2014.880 12.8\\ 2014.930 12.9\\ 2015.020 12.8\\ 2015.060 13.0\\ 2015.125 13.1\\
2015.160 13.2\\ 2015.206 12.9\\ 2015.240 13.3\\ 2015.286 12.8\\ 2015.310 12.7\\ 2015.350 12.6\\ 2015.420 10.0\\ 2015.480 9.0\\ 2015.560 9.0\\ 2015.620 9.8\\
2015.660 10.2\\ 2015.700 11.3\\ 2015.740 11.1\\ 2015.800 11.0\\ 2015.860 11.2\\ 2015.930 10.9\\ 2016.020 10.6\\ 2016.080 10.3\\ 2016.150 10.4\\ 2016.190 10.1\\
2016.230 10.2\\ 2016.270 9.8\\ 2016.320 9.5\\ 2016.360 10.0\\ 2016.420 8.3\\ 2016.500 7.9\\ 2016.560 8.8\\ 2016.630 9.3\\ 2016.700 9.1\\ 2016.740 9.2\\
2016.781 10.5\\ 2016.840 8.9\\ 2016.900 8.7\\ 2016.960 8.5\\ 2017.040 8.5\\ 2017.100 8.8\\ 2017.140 9.0\\ 2017.180 9.6\\ 2017.220 8.6\\ 2017.260 9.4\\
2017.330 8.5\\ 2017.360 7.6\\ 2017.420 7.0\\ 2017.470 6.8\\ 2017.530 6.9\\ 2017.600 8.6\\ 2017.660 9.0\\ 2017.700 9.4\\ 2017.752 9.9\\ 2017.800 8.6\\
2017.850 8.8\\ 2017.900 9.3\\ 2017.950 8.1\\ 2018.030 7.9\\ 2018.560 7.2\\ 2018.600 7.8\\ 2018.640 8.6\\ 2018.660 8.0\\ 2018.695 9.3\\ 2018.740 7.9\\
2018.791 9.1\\ 2018.820 7.8\\ 2018.960 8.2\\ 2019.000 8.5\\ 2019.050 8.8\\ 2019.080 9.6\\ 2019.110 8.3\\ 2019.140 9.0\\ 2019.190 9.5\\ 2019.230 8.0\\
2019.270 8.7\\ 2019.310 7.8\\ 2019.350 8.2\\ 2019.400 7.2\\ 2019.450 6.6\\ 2019.520 6.3\\
}\ysptab

\pgfplotstableread[row sep=\\]{t hi\\ 2010.254 7.5\\ 2011.556 7.5\\ 2012.254 9.9\\ 2012.395 9.8\\}\gapthin
\pgfplotstableread[row sep=\\]{t hi\\ 2010.415 6.7\\ 2012.122 10.0\\ 2016.205 9.3\\}\gapmed
\pgfplotstableread[row sep=\\]{t hi\\ 2010.993 8.9\\ 2011.432 7.7\\}\gapthick
\pgfplotstableread[row sep=\\]{t hi\\ 2014.255 11.2\\}\gapwide

% Time axis in years after 2010.0; tick labels carry the calendar year.
\pgfplotsset{
  legend image code/.code={\draw[#1] (0mm,0mm) -- (8.2mm,0mm);},
  panel/.style={
    scale only axis, width=312.54mm, height=37.8mm,
    xmin=-0.0048, xmax=10.0228,
    xtick={0,1,2,3,4,5,6,7,8,9,10},
    xticklabels={},
    xmajorgrids, major grid style={black!80, line width=0.18mm},
    major x tick style={draw=none},
    major tick length=1mm, tick align=outside,
    ytick style={black, line width=0.15mm},
    axis line style={black, line width=0.22mm},
    axis on top,
    yticklabel style={font=\fontsize{6.6}{8}\selectfont, inner sep=0.6mm},
    ylabel style={font=\fontsize{10.2}{12}\selectfont, inner sep=0.3mm},
    legend cell align=left,
    legend style={at={(0,1)}, anchor=north west, xshift=1.87mm, yshift=-1.9mm,
      draw=black!20, line width=0.15mm, rounded corners=0.7mm, fill=white, fill opacity=0.8, text opacity=1,
      font=\fontsize{10.4}{12}\selectfont, inner xsep=1.33mm, inner ysep=1.44mm, row sep=1.58mm, column sep=3.2mm,
      nodes={inner sep=0pt, text height=0.76em, text depth=0.24em}},
  }
}

\begin{document}
\begin{lrbox}{\figbox}
\begin{tikzpicture}
\begin{scope}
\clip (0.86mm,0mm) rectangle (329.375mm,166.0mm);

\node[anchor=base, font=\fontsize{10.9}{13}\selectfont] at (165.1mm,159.97mm) {Grahamstown MUF Potential drivers (F10,Kp,Solar Zenith Angle)};

% ---- Panel 1: F10.7
\begin{axis}[panel, at={(14.30mm,119.6mm)}, anchor=south west,
  ymin=53.9, ymax=263.9, ytick={100,150,200,250}, yticklabels={100,150,200,250}, ylabel={sfu}]
\addplot[red, line width=0.42mm, line join=round, forget plot] table[x expr=\thisrow{t}-2010, y=v]{\ftab};
\addlegendimage{red, line width=0.32mm}
\addlegendentry{F10.7}
\end{axis}

% ---- Panel 2: Kp
\begin{axis}[panel, at={(14.30mm,81.8mm)}, anchor=south west,
  ymin=-0.41, ymax=8.68, ytick={0,2,4,6,8}, yticklabels={0,2,4,6,8}, ylabel={Kp}]
\addplot[fill=black, draw=none, forget plot] table[x expr=\thisrow{t}-2010, y=b]{\kpbase} \closedcycle;
\addplot[ybar, bar width=0.5mm, bar shift=0pt, fill=black, draw=none, forget plot]
  table[x expr=0.0083+\coordindex/60, y index=0]{\kpgrass};
\addplot[ybar, bar width=0.34mm, bar shift=0pt, fill=black, draw=none, forget plot]
  table[x expr=\thisrow{t}-2010, y=v]{\kpspk};
\addlegendimage{black, line width=0.32mm}
\addlegendentry{Kp}
\end{axis}

% ---- Panel 3: SZA (band = area above 0 up to the upper envelope + area below 0 down to the lower one)
\begin{axis}[panel, at={(14.30mm,44.0mm)}, anchor=south west,
  ymin=-88.2, ymax=87.6, ytick={-50,0,50}, yticklabels={−50,0,50}, ylabel={Degrees}]
\addplot[fill=blue, draw=blue, line width=0.1mm, smooth, forget plot] table[x expr=\thisrow{t}-2010, y=u]{\szatab} \closedcycle;
\addplot[fill=blue, draw=blue, line width=0.1mm, smooth, forget plot] table[x expr=\thisrow{t}-2010, y=l]{\szatab} \closedcycle;
\addlegendimage{blue, line width=0.32mm}
\addlegendentry{SZA}
\end{axis}

% ---- Panel 4: MUF (painted in layers)
\begin{axis}[panel, at={(14.30mm,6.2mm)}, anchor=south west,
  ymin=1.02, ymax=15.88, ytick={2.5,5,7.5,10,12.5,15}, yticklabels={2.5,5.0,7.5,10.0,12.5,15.0},
  ylabel={Frequency (MHz)},
  xticklabels={2010,2011,2012,2013,2014,2015,2016,2017,2018,2019,2020},
  xticklabel style={font=\fontsize{10}{12}\selectfont, draw=black, line width=0.15mm, fill=lyel,
    anchor=north west, inner xsep=1.1mm, inner ysep=1.0mm, text height=0.76em, text depth=0.24em,
    xshift=-1.02mm, yshift=-1.7mm}]
\addplot[fill=black, draw=none, forget plot] table[x expr=0.025*\coordindex, y index=0]{\ubtab} \closedcycle;
\addplot[ybar, bar width=0.24mm, bar shift=0pt, fill=black, draw=none, forget plot] table[x expr=\thisrow{t}-2010, y=top]{\bsptab};
\addplot[fill=yellow, draw=none, forget plot] table[x expr=0.025*\coordindex, y index=0]{\uyatab} \closedcycle;
\addplot[fill=yellow, draw=none, forget plot] table[x expr=\thisrow{t}-2010, y=u]{\ybtab} \closedcycle;
\addplot[fill=yellow, draw=none, forget plot] table[x expr=\thisrow{t}-2010, y=u]{\yctab} \closedcycle;
\addplot[ybar, bar width=0.16mm, bar shift=0pt, fill=yellow, draw=none, forget plot] table[x expr=\thisrow{t}-2010, y=top]{\ysptab};
\addplot[ybar, bar width=0.22mm, bar shift=0pt, fill=black, draw=none, forget plot] table[x expr=\thisrow{t}-2010, y=hi]{\gapthin};
\addplot[ybar, bar width=0.7mm, bar shift=0pt, fill=black, draw=none, forget plot] table[x expr=\thisrow{t}-2010, y=hi]{\gapmed};
\addplot[ybar, bar width=1.1mm, bar shift=0pt, fill=black, draw=none, forget plot] table[x expr=\thisrow{t}-2010, y=hi]{\gapthick};
\addplot[ybar, bar width=1.5mm, bar shift=0pt, fill=black, draw=none, forget plot] table[x expr=\thisrow{t}-2010, y=hi]{\gapwide};
\addplot[fill=black, draw=none, forget plot] table[x expr=\thisrow{t}-2010, y=v]{\lyatab} \closedcycle;
\addplot[fill=black, draw=none, forget plot] table[x expr=\thisrow{t}-2010, y=l]{\ybtab} \closedcycle;
\addplot[fill=black, draw=none, forget plot] table[x expr=\thisrow{t}-2010, y=l]{\yctab} \closedcycle;
\addplot[fill=white, draw=none, forget plot] table[x expr=\thisrow{t}-2010, y=v]{\lbtab} \closedcycle;
\addlegendimage{black, line width=0.32mm}
\addlegendentry{New Model}
\addlegendimage{yellow, line width=0.12mm}
\addlegendentry{Measured MUF}
\end{axis}

\node[draw=black, line width=0.15mm, fill=lyel, inner xsep=1.2mm, inner ysep=0.9mm, text height=0.76em, text depth=0.24em,
  font=\fontsize{10.2}{12}\selectfont] at (315.39mm,35.2mm) {Corr:0.8279};
\end{scope}

\fill[frm] (0,0) rectangle (0.31mm,168.7mm);
\fill[frm] (331.0mm,0) rectangle (331.41mm,168.7mm);
\draw[frmthin, line width=0.18mm] (0.86mm,0) -- (0.86mm,166.0mm) -- (329.375mm,166.0mm) -- (329.375mm,0);
\pgfresetboundingbox
\useasboundingbox (0,0) rectangle (331.41mm,168.7mm);
\end{tikzpicture}%
\end{lrbox}%
\scalebox{1.28}[1]{\usebox{\figbox}}
\end{document}
